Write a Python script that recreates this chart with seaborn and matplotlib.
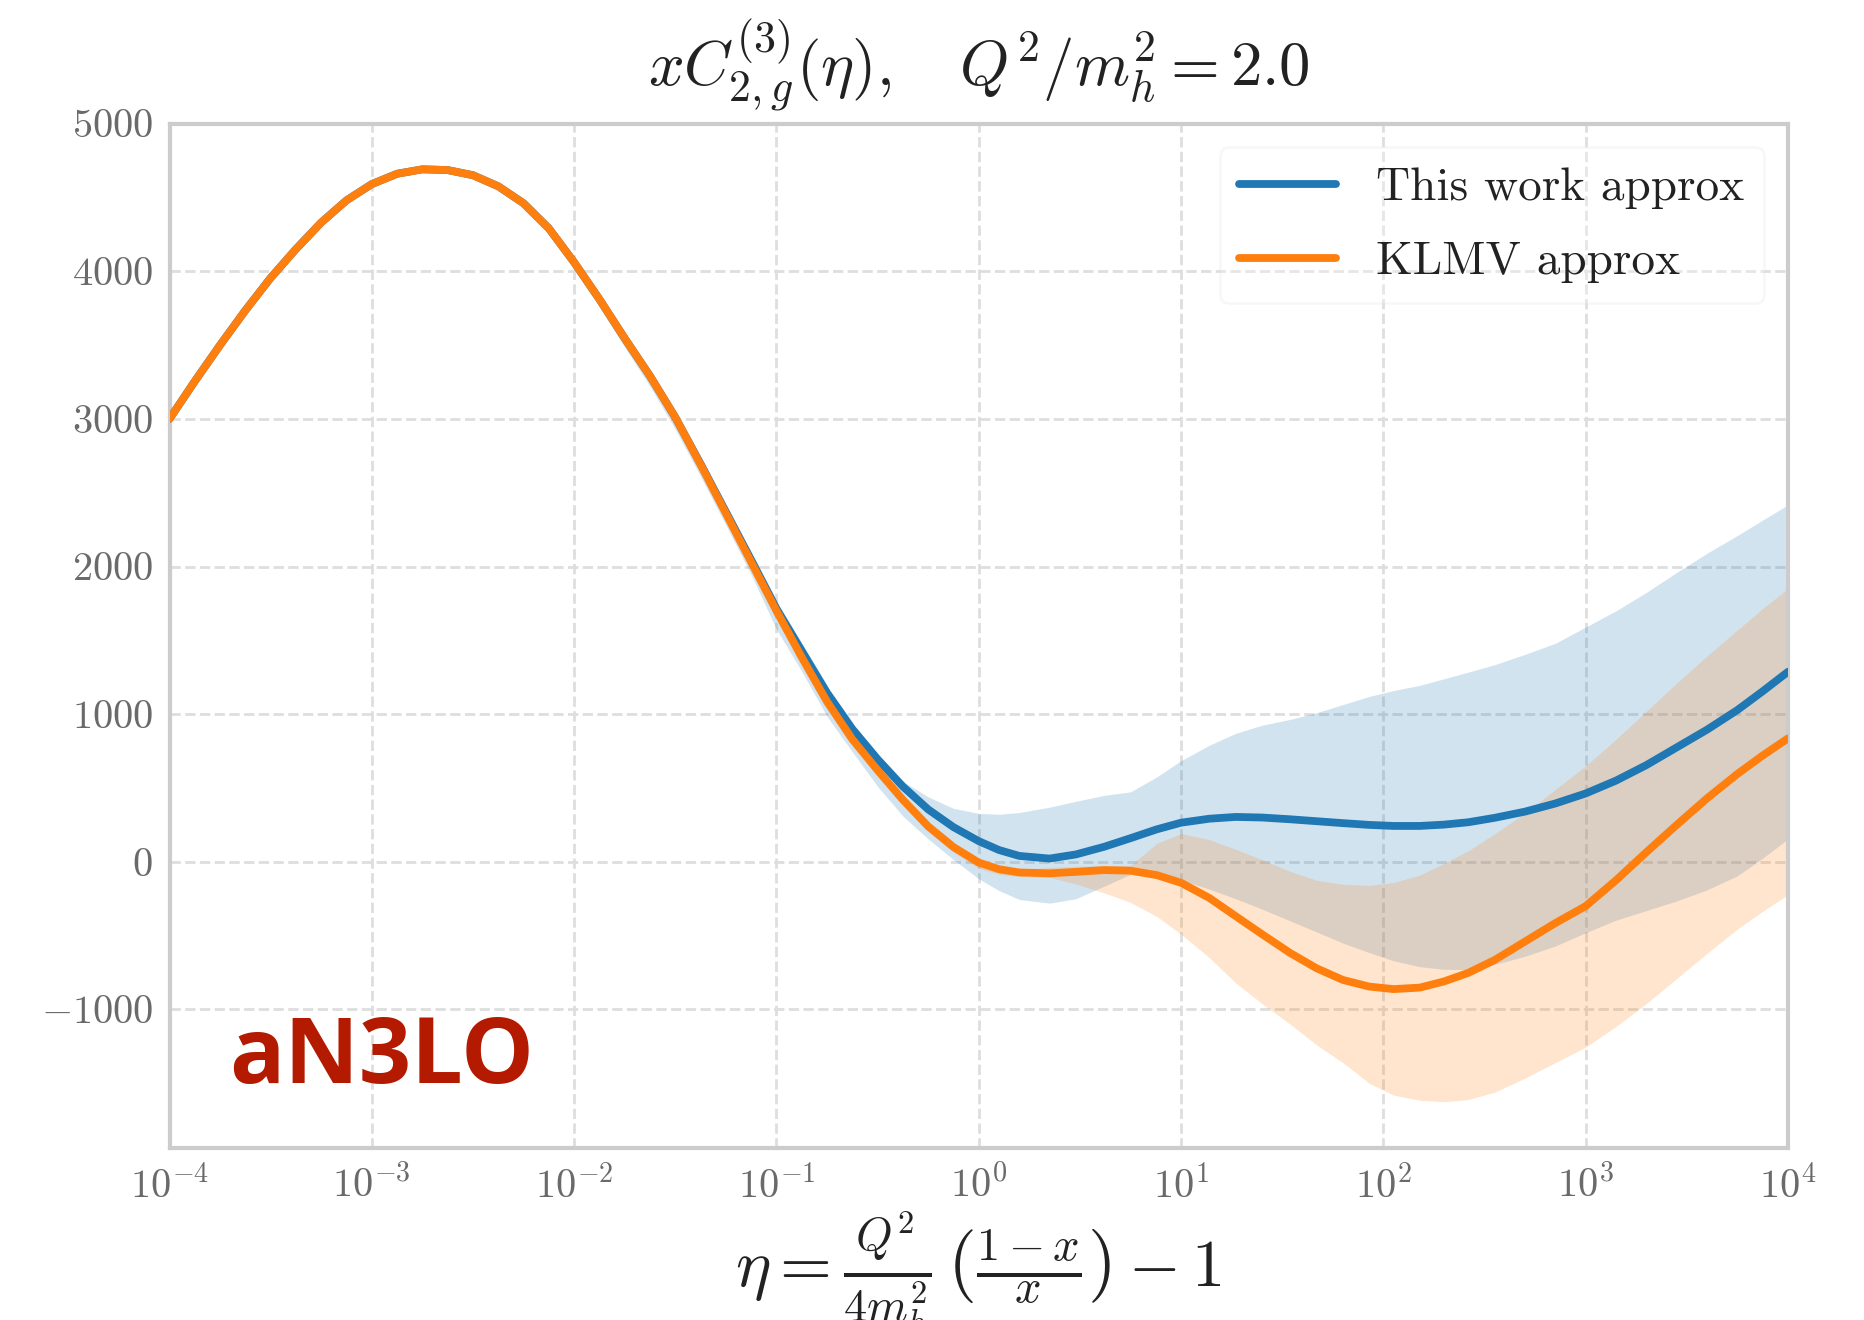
import numpy as np
import pandas as pd
import matplotlib
matplotlib.use("Agg")
import matplotlib.pyplot as plt
import matplotlib.ticker as mticker
import seaborn as sns

# ---------------- data ----------------
log_eta = [-4.0, -3.875, -3.75, -3.625, -3.5, -3.375, -3.25, -3.125, -3.0, -2.875,
           -2.75, -2.625, -2.5, -2.375, -2.25, -2.125, -2.0, -1.875, -1.75, -1.625,
           -1.5, -1.375, -1.25, -1.125, -1.0, -0.875, -0.75, -0.625, -0.5, -0.375,
           -0.25, -0.125, 0.0, 0.1, 0.2, 0.35, 0.48, 0.62, 0.75, 0.88,
           1.0, 1.14, 1.27, 1.4, 1.54, 1.67, 1.8, 1.93, 2.05, 2.18,
           2.3, 2.42, 2.55, 2.7, 2.85, 3.0, 3.15, 3.3, 3.45, 3.6,
           3.75, 3.875, 4.0]

this_work = [3000, 3255, 3500, 3735, 3955, 4150, 4330, 4480, 4590, 4660,
             4690, 4685, 4650, 4575, 4460, 4290, 4060, 3810, 3545, 3290,
             3010, 2695, 2370, 2045, 1715, 1430, 1145, 900, 695, 510,
             355, 235, 140, 80, 40, 22, 50, 102, 160, 220,
             265, 292, 304, 300, 288, 275, 262, 250, 243, 243,
             252, 268, 298, 340, 395, 463, 550, 655, 775, 895,
             1028, 1155, 1287]
this_work_hi = [3005, 3260, 3505, 3740, 3960, 4155, 4335, 4485, 4595, 4665,
                4695, 4690, 4655, 4580, 4465, 4295, 4065, 3815, 3550, 3295,
                3015, 2700, 2375, 2050, 1720, 1435, 1150, 908, 710, 545,
                440, 362, 328, 322, 334, 370, 410, 450, 474, 575,
                685, 790, 870, 925, 965, 1010, 1065, 1120, 1160, 1195,
                1240, 1285, 1335, 1405, 1480, 1590, 1700, 1825, 1960, 2090,
                2210, 2315, 2417]
this_work_lo = [2995, 3250, 3495, 3730, 3950, 4145, 4325, 4475, 4585, 4655,
                4685, 4680, 4645, 4563, 4440, 4260, 4020, 3760, 3485, 3220,
                2930, 2610, 2280, 1945, 1575, 1290, 985, 745, 510, 310,
                155, 15, -115, -195, -255, -280, -250, -165, -85, -100,
                -124, -185, -250, -320, -400, -475, -550, -615, -670, -710,
                -728, -730, -695, -640, -570, -480, -395, -330, -265, -190,
                -95, 25, 155]

klmv = [3000, 3255, 3500, 3735, 3955, 4150, 4330, 4480, 4590, 4660,
        4690, 4685, 4650, 4575, 4460, 4290, 4060, 3810, 3545, 3290,
        3010, 2690, 2360, 2030, 1700, 1385, 1085, 830, 620, 420,
        240, 100, -5, -50, -72, -78, -68, -56, -60, -90,
        -142, -245, -368, -490, -618, -721, -800, -845, -862, -852,
        -810, -752, -665, -540, -415, -300, -125, 65, 250, 430,
        595, 720, 836]
klmv_hi = [3005, 3260, 3505, 3740, 3960, 4155, 4335, 4485, 4595, 4665,
           4695, 4690, 4655, 4580, 4465, 4295, 4065, 3815, 3550, 3295,
           3015, 2695, 2365, 2035, 1705, 1390, 1090, 835, 630, 432,
           255, 118, 15, -30, -50, -38, -30, -25, -25, 125,
           192, 150, 85, 15, -65, -125, -152, -160, -140, -90,
           -10, 75, 190, 330, 490, 650, 830, 1020, 1210, 1395,
           1570, 1715, 1852]
klmv_lo = [2995, 3250, 3495, 3730, 3950, 4145, 4325, 4475, 4585, 4655,
           4685, 4680, 4645, 4570, 4455, 4285, 4055, 3805, 3540, 3285,
           3005, 2685, 2355, 2025, 1695, 1380, 1080, 820, 600, 395,
           210, 65, -45, -85, -100, -105, -150, -210, -275, -370,
           -490, -650, -820, -960, -1100, -1240, -1360, -1500, -1580, -1615,
           -1625, -1610, -1560, -1465, -1360, -1255, -1115, -960, -790, -620,
           -455, -335, -222]

series_names = ["This work approx", "KLMV approx"]
colors = ["#1f77b4", "#ff7f0e"]
x_ticks_exp = [-4, -3, -2, -1, 0, 1, 2, 3, 4]
y_ticks = [-1000, 0, 1000, 2000, 3000, 4000, 5000]

# ---------------- style ----------------
sns.set_style("white")
plt.rcParams["font.family"] = ["cmr10", "DejaVu Serif"]
plt.rcParams["mathtext.fontset"] = "cm"
plt.rcParams["axes.unicode_minus"] = False

eta = 10.0 ** np.array(log_eta)
df = pd.DataFrame({
    "eta": np.concatenate([eta, eta]),
    "value": this_work + klmv,
    "series": [series_names[0]] * len(eta) + [series_names[1]] * len(eta),
})

fig = plt.figure(figsize=(9.325, 6.6), dpi=200)
ax = fig.add_axes([0.0909, 0.1301, 0.8678, 0.7763])

ax.fill_between(eta, this_work_lo, this_work_hi, color=colors[0], alpha=0.2, lw=0, zorder=1)
ax.fill_between(eta, klmv_lo, klmv_hi, color=colors[1], alpha=0.2, lw=0, zorder=1)

sns.lineplot(data=df, x="eta", y="value", hue="series", hue_order=series_names,
             palette=colors, linewidth=2.8, errorbar=None, ax=ax, zorder=3)

ax.set_xscale("log")
ax.set_xlim(1e-4, 1e4)
ax.set_ylim(-1940, 5000)

ax.xaxis.set_major_locator(mticker.FixedLocator([10.0 ** e for e in x_ticks_exp]))
ax.xaxis.set_major_formatter(mticker.FuncFormatter(
    lambda v, p: r"$10^{%d}$" % int(round(np.log10(v)))))
ax.xaxis.set_minor_locator(mticker.LogLocator(base=10, subs=np.arange(2, 10), numticks=100))
ax.xaxis.set_minor_formatter(mticker.NullFormatter())
ax.yaxis.set_major_locator(mticker.FixedLocator(y_ticks))
ax.yaxis.set_major_formatter(mticker.FuncFormatter(lambda v, p: r"$%d$" % int(v)))

ax.grid(True, which="major", linestyle="--", color="#dedede", linewidth=1.0)
ax.set_axisbelow(True)

for s in ax.spines.values():
    s.set_color("#cccccc")
    s.set_linewidth(1.5)

ax.tick_params(axis="both", which="major", direction="in", length=4.7, width=1.4,
               color="#999999", labelcolor="#6a6a6a", labelsize=14.5, pad=6)
ax.tick_params(axis="x", which="minor", direction="in", length=2.5, width=0.8,
               color="#999999")
ax.tick_params(axis="y", which="minor", left=False)

ax.set_title(r"$xC^{(3)}_{2,g}(\eta),\quad Q^2/m_h^2 = 2.0$", fontsize=22.6, pad=13.5,
             color="#222222")
ax.set_xlabel(r"$\eta = \frac{Q^2}{4m_h^2}\,\left(\frac{1-x}{x}\right) - 1$",
              fontsize=24, labelpad=1.5, color="#222222")
ax.set_ylabel("")

handles, labels = ax.get_legend_handles_labels()
leg = ax.legend(handles, labels, loc="upper right", fontsize=17, frameon=True,
                fancybox=True, framealpha=0.25, edgecolor="#e3e3e3",
                handlelength=2.05, handletextpad=0.85, labelspacing=0.68,
                borderaxespad=0.5, borderpad=0.42)
for t in leg.get_texts():
    t.set_color("#222222")
for h in leg.get_lines():
    h.set_linewidth(2.8)
    h.set_solid_capstyle("round")

ax.text(0.037, 0.0637, "aN3LO", transform=ax.transAxes, fontsize=33,
        fontweight="bold", family=["Open Sans", "DejaVu Sans"], color="#b31a00",
        ha="left", va="baseline", zorder=5)

fig.savefig("out.png", dpi=200)
